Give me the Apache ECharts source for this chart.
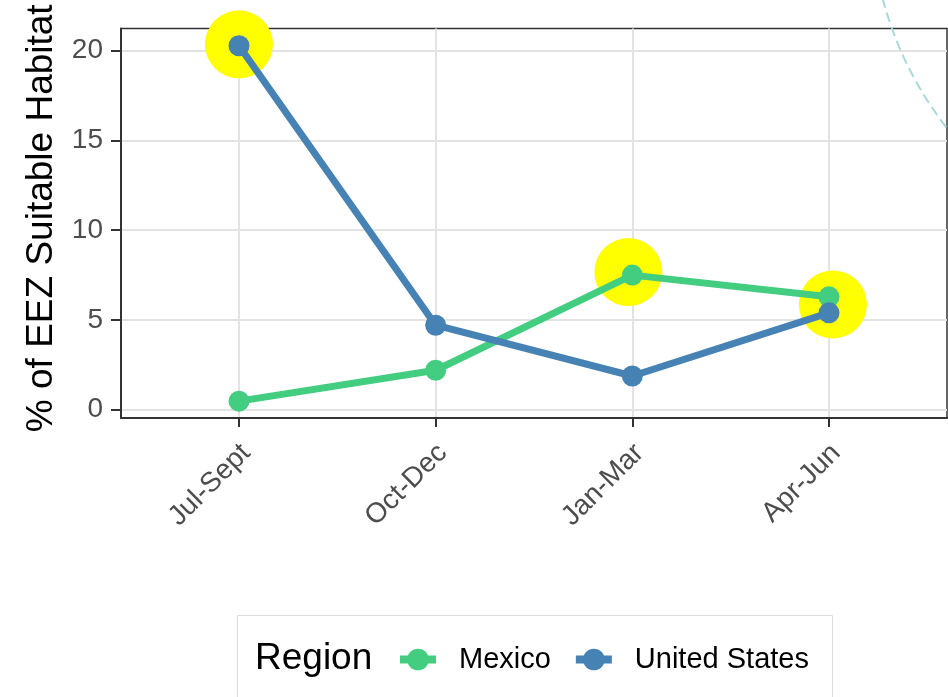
<!DOCTYPE html>
<html>
<head>
<meta charset="utf-8">
<script src="https://cdn.jsdelivr.net/npm/echarts@6/dist/echarts.min.js"></script>
<style>
  html, body { margin: 0; padding: 0; background: #fff; }
  #chart { width: 948px; height: 697px; }
</style>
</head>
<body>
<div id="chart"></div>
<script>
// seasons on the x axis (positions 1..4)
const seasons = ['Jul-Sept', 'Oct-Dec', 'Jan-Mar', 'Apr-Jun']
const seasonPos = [1, 2, 3, 4]
const mexico = [0.47, 2.19, 7.49, 6.28]
const unitedStates = [20.27, 4.70, 1.87, 5.39]
// yellow highlight circles
const highlightX = [1.0, 2.98, 4.02]
const highlightY = [20.35, 7.66, 5.86]
const yTicks = [0, 5, 10, 15, 20]

const font = 'Liberation Sans, Arial, Helvetica, sans-serif'

let chart = echarts.init(document.getElementById('chart'))

let option = {
  animation: false,
  backgroundColor: '#ffffff',
  grid: {
    left: 121,
    right: 1,
    top: 28.5,
    bottom: 279,
    show: true,
    borderColor: '#333333',
    borderWidth: 1.5,
    outerBoundsMode: 'none'
  },
  title: {
    text: 'Region',
    left: 250,
    top: 635,
    textStyle: { fontFamily: font, fontSize: 37, fontWeight: 'normal', color: '#000' }
  },
  legend: {
    data: ['Mexico', 'United States'],
    left: 391,
    top: 640,
    itemWidth: 36,
    itemHeight: 27,
    itemGap: 21,
    lineStyle: { width: 8 },
    textStyle: { fontFamily: font, fontSize: 29, color: '#000', padding: [0, 0, 0, 18] }
  },
  xAxis: {
    type: 'value',
    min: 0.4,
    max: 4.6,
    axisLine: { show: true, onZero: false, lineStyle: { color: '#333333', width: 2 } },
    axisTick: { show: true, customValues: seasonPos, length: 9, lineStyle: { color: '#333333', width: 2 } },
    axisLabel: {
      customValues: seasonPos,
      formatter: v => seasons[Math.round(v) - 1],
      rotate: 45,
      verticalAlign: 'top',
      margin: 18,
      padding: [0, 4, 0, 0],
      fontFamily: font,
      fontSize: 28,
      color: '#4d4d4d'
    },
    splitLine: { show: true, lineStyle: { color: '#e3e3e3', width: 2 } }
  },
  yAxis: {
    type: 'value',
    min: -0.47,
    max: 21.23,
    name: '% of EEZ Suitable Habitat',
    nameLocation: 'middle',
    nameGap: 61,
    nameTextStyle: { fontFamily: font, fontSize: 37, color: '#000', padding: [0, 0, 0, 10] },
    axisLine: { show: true, lineStyle: { color: '#333333', width: 2 } },
    axisTick: { show: true, customValues: yTicks, length: 10, lineStyle: { color: '#333333', width: 2 } },
    axisLabel: {
      customValues: yTicks,
      margin: 18,
      fontFamily: font,
      fontSize: 28,
      color: '#4d4d4d'
    },
    splitLine: { show: true, lineStyle: { color: '#e3e3e3', width: 2 } }
  },
  graphic: [{
    // dashed annotation arc in the top right corner
    type: 'circle',
    shape: { cx: 1228, cy: -92, r: 357 },
    style: { fill: 'none', stroke: '#a9d9d9', lineWidth: 2, lineDash: [10, 5] },
    z: 10,
    silent: true
  }, {
    // legend frame, like the ggplot legend box
    type: 'rect',
    shape: { x: 237.5, y: 615.5, width: 595, height: 120 },
    style: { fill: 'none', stroke: '#dddddd', lineWidth: 1 },
    silent: true
  }],
  series: [
    {
      name: 'highlight',
      type: 'scatter',
      data: highlightX.map((x, i) => [x, highlightY[i]]),
      symbolSize: 68,
      itemStyle: { color: '#ffff00', opacity: 1 },
      clip: false,
      z: 1
    },
    {
      name: 'Mexico',
      type: 'line',
      data: seasonPos.map((x, i) => [x, mexico[i]]),
      symbol: 'circle',
      symbolSize: 21,
      lineStyle: { width: 7, color: '#43CD80' },
      itemStyle: { color: '#43CD80' },
      clip: false,
      z: 3
    },
    {
      name: 'United States',
      type: 'line',
      data: seasonPos.map((x, i) => [x, unitedStates[i]]),
      symbol: 'circle',
      symbolSize: 21,
      lineStyle: { width: 7, color: '#4682B4' },
      itemStyle: { color: '#4682B4' },
      clip: false,
      z: 3
    }
  ]
}

chart.setOption(option)
</script>
</body>
</html>
